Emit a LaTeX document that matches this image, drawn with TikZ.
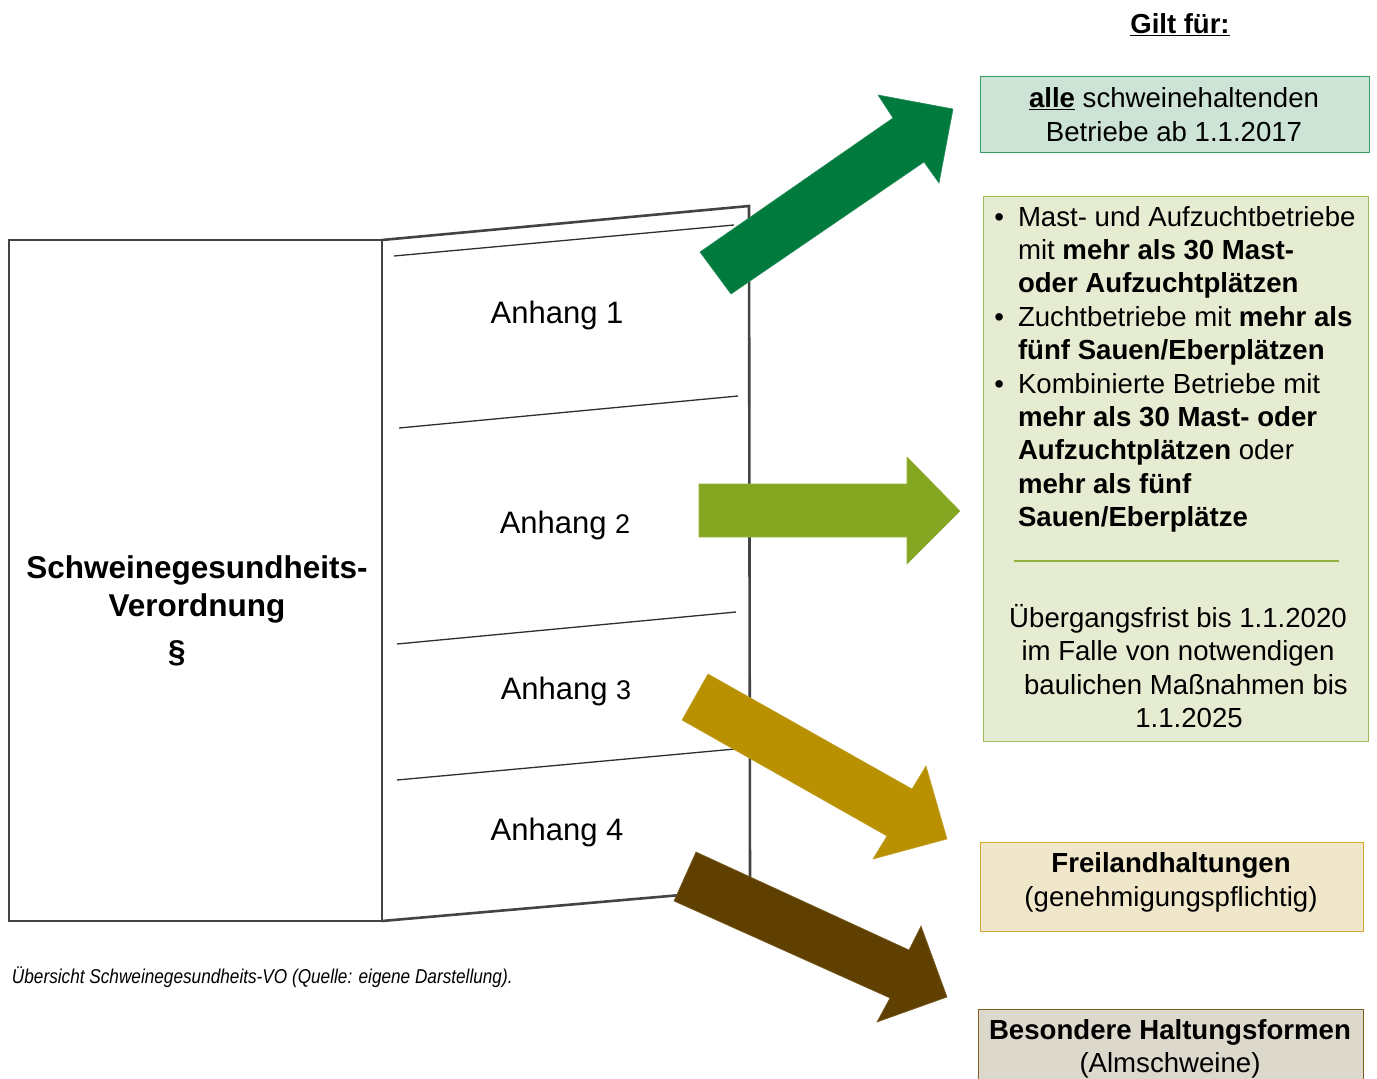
\documentclass[tikz,border=0pt]{standalone}
\usepackage{fontspec}
\setmainfont{Liberation Sans}
\definecolor{bookline}{HTML}{2E2E2E}
\definecolor{arrA}{HTML}{017A3E}
\definecolor{arrB}{HTML}{84A620}
\definecolor{arrC}{HTML}{B89000}
\definecolor{arrD}{HTML}{604000}
\definecolor{fillA}{HTML}{CCE3D6}
\definecolor{drawA}{HTML}{3A9B63}
\definecolor{fillB}{HTML}{E6ECD1}
\definecolor{drawB}{HTML}{9CBB5A}
\definecolor{sepB}{HTML}{92B33A}
\definecolor{fillC}{HTML}{F0E6CA}
\definecolor{drawC}{HTML}{D4A82A}
\definecolor{fillD}{HTML}{DDD8CC}
\definecolor{drawD}{HTML}{7F5F20}
\newcommand{\fs}[2]{\fontsize{#1}{#2}\selectfont}
\begin{document}
\begin{tikzpicture}[x=1pt,y=-1pt,
  cover/.style={draw=bookline!90!white,line width=2.6pt,line join=miter},
  pageline/.style={draw=bookline,line width=1.3pt},
  txt/.style={inner sep=0pt,outer sep=0pt,align=center,text=black},
  infobox/.style={rectangle,inner sep=0pt,line width=1pt},
  bigarrow/.style={line width=0.6pt,line join=miter}]
\useasboundingbox (0,0) rectangle (1377,1079);
% book
\coordinate (cTL) at (9,240);
\coordinate (cBL) at (9,921);
\coordinate (sT) at (382,240);
\coordinate (sB) at (382,921);
\coordinate (pTR) at (749,206);
\coordinate (pBR) at (750,889);
\draw[cover] (cTL) -- (sT) -- (sB) -- (cBL) -- cycle;
\draw[cover] (sT) -- (pTR) -- (pBR) -- (sB);
\coordinate (l1a) at (394,256); \coordinate (l1b) at (734,225);
\coordinate (l2a) at (399,428); \coordinate (l2b) at (738,396);
\coordinate (l3a) at (397,644); \coordinate (l3b) at (736,612);
\coordinate (l4a) at (397,780); \coordinate (l4b) at (735,749);
\draw[pageline] (l1a) -- (l1b);
\draw[pageline] (l2a) -- (l2b);
\draw[pageline] (l3a) -- (l3b);
\draw[pageline] (l4a) -- (l4b);
\node[txt,font=\fs{31}{37}] (an1) at (557,315) {Anhang 1};
\node[txt,font=\fs{31}{37}] (an2) at (565,525) {Anhang {\fs{27}{32}2}};
\node[txt,font=\fs{31}{37}] (an3) at (566,691) {Anhang {\fs{27}{32}3}};
\node[txt,font=\fs{31}{37}] (an4) at (557,832) {Anhang 4};
\node[txt,font=\bfseries\fs{31.5}{38}] (title) at (197,589) {Schweinegesundheits-\\Verordnung};
\node[txt,font=\bfseries\fs{31.5}{38}] (para) at (177,653) {§};
% arrows
\draw[bigarrow,draw=arrA!85!white,fill=arrA] (700,252) -- (893,118) -- (878,95) -- (953,109) -- (939,183) -- (924,162) -- (731,294) -- cycle;
\draw[bigarrow,draw=arrB!85!white,fill=arrB] (699,484) -- (907,484) -- (907,457) -- (960,511) -- (907,564) -- (907,537) -- (699,537) -- cycle;
\draw[bigarrow,draw=arrC!85!white,fill=arrC] (708,674) -- (912,789) -- (926,766) -- (947,839) -- (873,859) -- (887,836) -- (682,720) -- cycle;
\draw[bigarrow,draw=arrD!85!white,fill=arrD] (696,852) -- (909,950) -- (921,926) -- (947,997) -- (877,1022) -- (890,998) -- (674,901) -- cycle;
% header
\node[txt,font=\bfseries\fs{27.5}{33}] (gilt) at (1180,25) {\underline{Gilt für:}};
% box 1
\node[infobox,draw=drawA,fill=fillA,minimum width=389pt,minimum height=76pt] (b1) at (1174.5,114) {};
\node[txt,font=\fs{27.6}{33.4}] (t1) at (1174,114.5) {\underline{\textbf{alle}} schweinehaltenden\\Betriebe ab 1.1.2017};
% box 2
\node[infobox,draw=drawB,fill=fillB,minimum width=385pt,minimum height=545pt] (b2) at (1175.5,468.5) {};
\node[txt,align=left,anchor=north west,font=\fs{27.6}{33.4}] (t2) at (1018,206) {%
\llap{•\hspace{14pt}}Mast- und Aufzuchtbetriebe\\
mit \textbf{mehr als 30 Mast-}\\
\textbf{oder Aufzuchtplätzen}\\
\llap{•\hspace{14pt}}Zuchtbetriebe mit \textbf{mehr als}\\
\textbf{fünf Sauen/Eberplätzen}\\
\llap{•\hspace{14pt}}Kombinierte Betriebe mit\\
\textbf{mehr als 30 Mast- oder}\\
\textbf{Aufzuchtplätzen} oder\\
\textbf{mehr als fünf}\\
\textbf{Sauen/Eberplätze}};
\coordinate (sepL) at (1014,561);
\coordinate (sepR) at (1339,561);
\draw[sepB,line width=1.5pt] (sepL) -- (sepR);
\node[txt,font=\fs{27.6}{33.4}] (t2b) at (1178,666) {Übergangsfrist bis 1.1.2020\\im Falle von notwendigen\\\hspace*{16pt}baulichen Maßnahmen bis\\\hspace*{22pt}1.1.2025};
% box 3
\node[infobox,draw=drawC,fill=fillC,minimum width=383pt,minimum height=89pt] (b3) at (1171.5,886.5) {};
\node[txt,font=\fs{27.6}{33.4}] (t3) at (1171,882.5) {\textbf{Freilandhaltungen}\\(genehmigungspflichtig)};
% box 4
\node[infobox,draw=drawD,fill=fillD,minimum width=385pt,minimum height=90pt] (b4) at (1170.5,1054) {};
\node[txt,font=\fs{27.6}{33.4}] (t4) at (1170,1049) {\textbf{Besondere Haltungsformen}\\(Almschweine)};
% caption
\node[txt,anchor=west,font=\itshape\fs{20}{24},xscale=0.86] (cap) at (12,977) {Übersicht Schweinegesundheits-VO (Quelle: eigene Darstellung).};
\end{tikzpicture}
\end{document}
